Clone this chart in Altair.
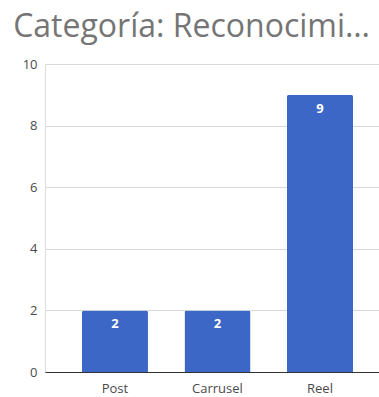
import altair as alt
import pandas as pd

# Publication types and how many fall in this category
formatos = ["Post", "Carrusel", "Reel"]
cantidades = [2, 2, 9]
y_ticks = [0, 2, 4, 6, 8, 10]

df = pd.DataFrame({"formato": formatos, "cantidad": cantidades})

FONT = "Open Sans"
BAR_COLOR = "#3c67c6"

base = alt.Chart(df).encode(
    x=alt.X(
        "formato:N",
        sort=formatos,
        title=None,
        scale=alt.Scale(paddingInner=0.356, paddingOuter=0.307, align=0.587),
        axis=alt.Axis(
            labelAngle=0,
            domain=False,
            ticks=False,
            labelFont=FONT,
            labelFontSize=13,
            labelColor="#4a4a4a",
            labelPadding=10,
        ),
    ),
    y=alt.Y(
        "cantidad:Q",
        title=None,
        scale=alt.Scale(domain=[0, 10], nice=False),
        axis=alt.Axis(
            values=y_ticks,
            ticks=False,
            domain=False,
            labelFont=FONT,
            labelFontSize=13,
            labelColor="#4a4a4a",
            labelPadding=8,
            gridColor={
                "condition": {"test": "datum.value === 0", "value": "#333333"},
                "value": "#d9d9d9",
            },
            gridWidth=1,
        ),
    ),
)

bars = base.mark_bar(color=BAR_COLOR, cornerRadiusTopLeft=2, cornerRadiusTopRight=2)

labels = base.mark_text(
    color="white",
    font=FONT,
    fontSize=13,
    fontWeight="bold",
    baseline="top",
    dy=8,
).encode(text="cantidad:Q")

chart = (
    alt.layer(bars, labels)
    .properties(
        width=334,
        height=308,
        padding={"left": 45, "top": 64, "right": 0, "bottom": 25},
        autosize=alt.AutoSizeParams(type="none"),
        title=alt.TitleParams(
            "Categoría: Reconocimi…",
            anchor="start",
            font=FONT,
            fontSize=32,
            fontWeight="normal",
            color="#757575",
            baseline="alphabetic",
            dx=-9,
            dy=23,
            offset=12,
        ),
    )
    .configure_view(strokeWidth=0)
    .configure(background="white")
)

chart.save("out.html", embed_options={"renderer": "svg", "actions": False})
